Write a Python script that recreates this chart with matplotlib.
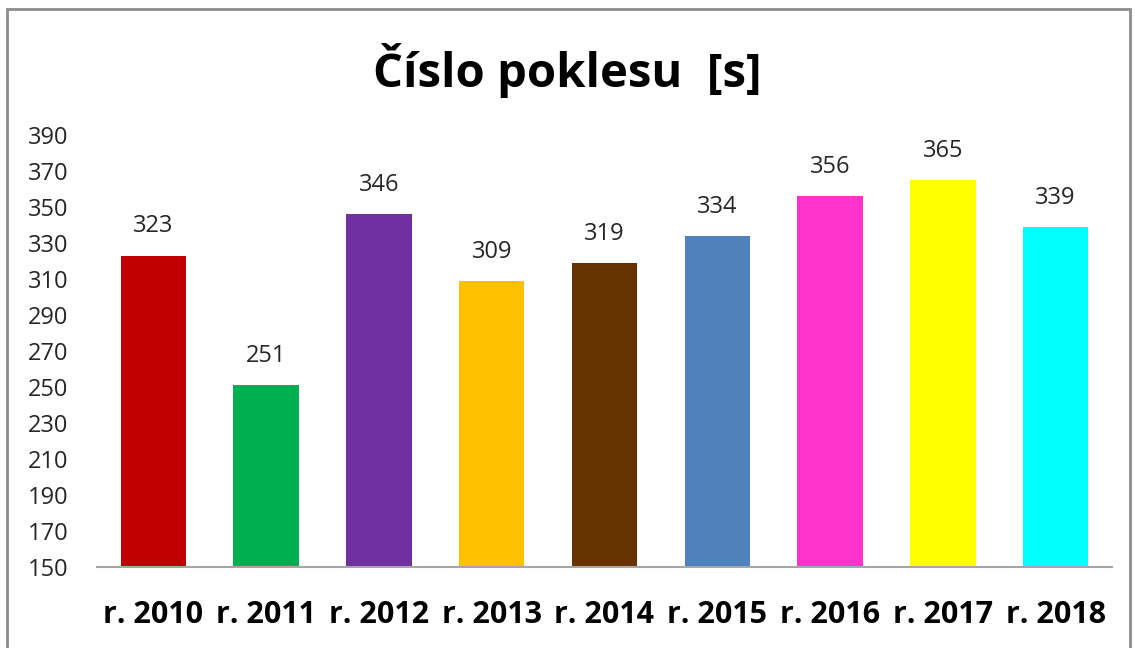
import matplotlib
matplotlib.use("Agg")
import matplotlib.pyplot as plt
from matplotlib.patches import Rectangle

categories = ["r. 2010", "r. 2011", "r. 2012", "r. 2013", "r. 2014",
              "r. 2015", "r. 2016", "r. 2017", "r. 2018"]
values = [323, 251, 346, 309, 319, 334, 356, 365, 339]
colors = ["#C00000", "#00B050", "#7030A0", "#FFC000", "#663300",
          "#4F81BD", "#FF33CC", "#FFFF00", "#00FFFF"]
yticks = list(range(150, 391, 20))
title = "Číslo poklesu  [s]"

plt.rcParams['font.family'] = ['Open Sans', 'DejaVu Sans']

fig = plt.figure(figsize=(11.35, 6.48), dpi=100)
fig.patches.append(Rectangle((7/1135, -0.1), (1130-7)/1135, 1.1 - 9/648,
                             transform=fig.transFigure, fill=False,
                             edgecolor="#8C8C8C", linewidth=2.0))

ax = fig.add_axes([97/1135, 1 - 567/648, (1112-97)/1135, (567-135)/648])
x = list(range(len(categories)))
ax.bar(x, values, width=0.58, color=colors, zorder=2)
ax.set_xlim(-0.5, len(categories) - 0.5)
ax.set_ylim(150, 390)
ax.set_yticks(yticks)
ax.set_yticklabels([str(t) for t in yticks], fontsize=17, color="#262626")
ax.set_xticks(x)
ax.set_xticklabels(categories, fontsize=22, fontweight="bold", color="black")
ax.tick_params(axis="y", length=0, pad=50)
ax.tick_params(axis="x", length=0, pad=24)
for lbl in ax.get_yticklabels():
    lbl.set_horizontalalignment("left")
for s in ["top", "right", "left"]:
    ax.spines[s].set_visible(False)
ax.spines["bottom"].set_color("#A6A6A6")
ax.spines["bottom"].set_linewidth(1.5)

for xi, v in zip(x, values):
    ax.annotate(str(v), (xi, v), xytext=(0, 21), textcoords="offset points",
                ha="center", va="center", fontsize=17, color="#262626")

fig.text(0.5, 1 - 70/648, title, ha="center", va="center",
         fontsize=34, fontweight="bold", color="black")

fig.savefig("out.png", dpi=100, facecolor="white")
